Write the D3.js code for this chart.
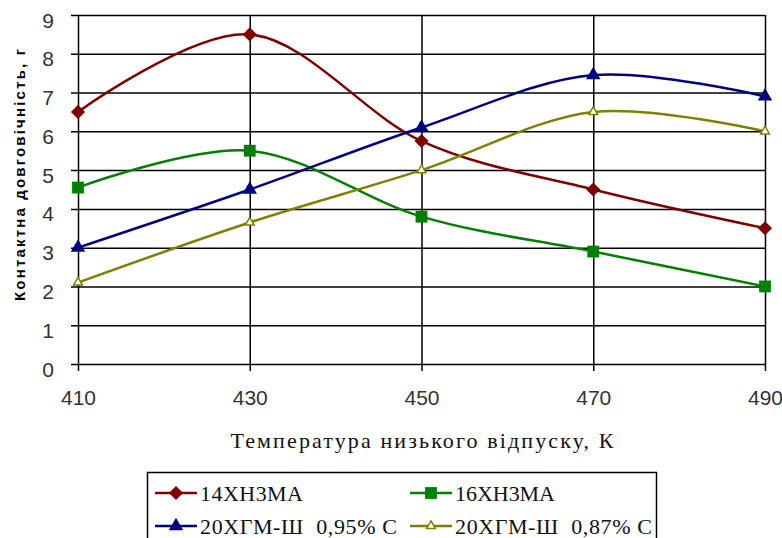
<!DOCTYPE html>
<html>
<head>
<meta charset="utf-8">
<script src="https://cdn.jsdelivr.net/npm/d3@7"></script>
<style>
  body { margin: 0; background: #fff; }
  svg text { white-space: pre; }
</style>
</head>
<body>
<div id="chart"></div>
<script>
// data
var temps = [410, 430, 450, 470, 490];
var s14 = [6.5, 8.5, 5.75, 4.5, 3.5];
var s16 = [4.55, 5.5, 3.8, 2.9, 2.0];
var s20a = [3.0, 4.5, 6.1, 7.45, 6.9];
var s20b = [2.1, 3.65, 5.0, 6.5, 6.0];
var yTicks = [0, 1, 2, 3, 4, 5, 6, 7, 8, 9];
var names = ["14ХН3МА", "16ХН3МА", "20ХГМ-Ш  0,95% С", "20ХГМ-Ш  0,87% С"];

var W = 782, H = 538;
var margin = {top: 15, right: 17, bottom: 174, left: 78},
    width = W - margin.left - margin.right,
    height = H - margin.top - margin.bottom;

var x = d3.scaleLinear().domain([410, 490]).range([0, width]);
var y = d3.scaleLinear().domain([0, 9]).range([height, 0]);

var svg = d3.select("#chart").append("svg")
    .attr("width", W)
    .attr("height", H);

var g = svg.append("g")
    .attr("transform", "translate(" + margin.left + "," + margin.top + ")");

//Gridlines through the axes
var yAxis = d3.axisLeft(y).tickValues(yTicks).tickSize(-width).tickPadding(30);
var gy = g.append("g").call(yAxis);
gy.select(".domain").remove();
gy.selectAll("line").attr("x1", -7).attr("stroke", "#000").attr("stroke-width", 1.5);
gy.selectAll("text")
    .attr("x", -30)
    .attr("dy", null)
    .attr("y", 12)
    .attr("text-anchor", "middle")
    .style("font-family", "Liberation Sans, Arial, sans-serif")
    .style("font-size", "21px")
    .attr("fill", "#333");

var xAxis = d3.axisBottom(x).tickValues(temps).tickSize(-height).tickPadding(34);
var gx = g.append("g").attr("transform", "translate(0," + height + ")").call(xAxis);
gx.select(".domain").remove();
gx.selectAll("line").attr("y1", 7).attr("stroke", "#000").attr("stroke-width", 1.5);
gx.selectAll("text")
    .attr("dy", null)
    .attr("y", 41)
    .attr("text-anchor", "middle")
    .style("font-family", "Liberation Sans, Arial, sans-serif")
    .style("font-size", "21px")
    .attr("fill", "#333");

//Axis titles
svg.append("text")
    .attr("x", 422)
    .attr("y", 448)
    .attr("text-anchor", "middle")
    .attr("textLength", 383)
    .attr("lengthAdjust", "spacing")
    .style("font-family", "Liberation Serif, Times New Roman, serif")
    .style("font-size", "22px")
    .attr("fill", "#111")
    .text("Температура низького відпуску, К");

svg.append("text")
    .attr("transform", "translate(25,175) rotate(-90)")
    .attr("text-anchor", "middle")
    .attr("textLength", 252)
    .attr("lengthAdjust", "spacing")
    .style("font-family", "Liberation Sans, Arial, sans-serif")
    .style("font-size", "15px")
    .style("font-weight", "bold")
    .attr("fill", "#000")
    .text("Контактна довговічність, г");

//Series
var series = [
    {name: names[0], values: s14, color: "#800000", shape: "diamond"},
    {name: names[1], values: s16, color: "#008000", shape: "square"},
    {name: names[2], values: s20a, color: "#000080", shape: "triangle"},
    {name: names[3], values: s20b, color: "#808000", shape: "open"}
];

var line = d3.line()
    .x(function(d) { return x(d[0]); })
    .y(function(d) { return y(d[1]); })
    .curve(d3.curveCatmullRom.alpha(0));

function marker(sel, shape, color) {
    if (shape == "diamond") {
        sel.attr("d", d3.symbol().type(d3.symbolSquare).size(100)())
           .attr("fill", color)
           .attr("transform", function() { return d3.select(this).attr("transform") + " rotate(45)"; });
    } else if (shape == "square") {
        sel.attr("d", d3.symbol().type(d3.symbolSquare).size(140)()).attr("fill", color);
    } else if (shape == "triangle") {
        sel.attr("d", d3.symbol().type(d3.symbolTriangle).size(90)()).attr("fill", color);
    } else {
        sel.attr("d", d3.symbol().type(d3.symbolTriangle).size(34)())
           .attr("fill", "#fff").attr("stroke", color).attr("stroke-width", 1.5);
    }
}

series.forEach(function(s) {
    var pts = temps.map(function(t, i) { return [t, s.values[i]]; });
    g.append("path")
        .datum(pts)
        .attr("fill", "none")
        .attr("stroke", s.color)
        .attr("stroke-width", 2.5)
        .attr("d", line);

    g.selectAll(null)
        .data(pts)
        .enter().append("path")
        .attr("transform", function(d) { return "translate(" + x(d[0]) + "," + y(d[1]) + ")"; })
        .each(function() { marker(d3.select(this), s.shape, s.color); });
});

//Legend
svg.append("rect")
    .attr("x", 147.5).attr("y", 472.5)
    .attr("width", 509).attr("height", 100)
    .attr("fill", "none").attr("stroke", "#000").attr("stroke-width", 1.5);

var legPos = [
    {x: 155, y: 493, tw: 103},
    {x: 410, y: 493, tw: 100},
    {x: 155, y: 526, tw: 197},
    {x: 410, y: 526, tw: 197}
];

series.forEach(function(s, i) {
    var p = legPos[i];
    var lg = svg.append("g").attr("transform", "translate(" + p.x + "," + p.y + ")");
    lg.append("line")
        .attr("x1", 0).attr("x2", 42)
        .attr("stroke", s.color).attr("stroke-width", 2.5);
    lg.append("path")
        .attr("transform", "translate(21,0)")
        .each(function() { marker(d3.select(this), s.shape, s.color); });
    lg.append("text")
        .attr("x", 45)
        .attr("y", 8)
        .attr("textLength", p.tw)
        .attr("lengthAdjust", "spacing")
        .style("font-family", "Liberation Serif, Times New Roman, serif")
        .style("font-size", "22px")
        .attr("fill", "#111")
        .text(s.name);
});
</script>
</body>
</html>
